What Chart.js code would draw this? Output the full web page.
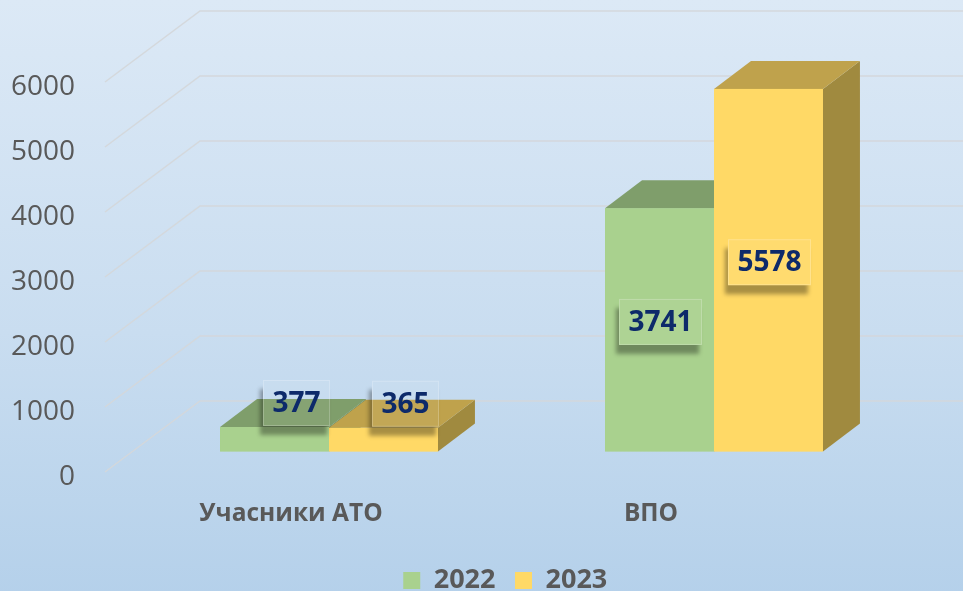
<!DOCTYPE html>
<html lang="uk">
<head>
<meta charset="UTF-8" />
<meta name="viewport" content="width=device-width, initial-scale=1.0" />
<title>Учасники АТО та ВПО</title>
<script src="https://cdn.jsdelivr.net/npm/chart.js"></script>
<style>
  html, body { margin: 0; padding: 0; overflow: hidden; }
  #wrap {
    position: relative;
    width: 963px;
    height: 604px;
    background: linear-gradient(to bottom, #dce9f6 0%, #c9ddf0 55%, #b4d0ea 100%);
  }
</style>
</head>
<body>
<div id="wrap"><canvas id="myChart"></canvas></div>
<script>
  const categories = ['Учасники АТО', 'ВПО'];
  const years = ['2022', '2023'];
  const values2022 = [377, 3741];
  const values2023 = [365, 5578];
  const yTicks = [0, 1000, 2000, 3000, 4000, 5000, 6000];

  // colours of the three visible faces of each box
  const frontColors = ['#a9d18e', '#ffd966'];
  const topColors = ['#7f9e6b', '#bfa24c'];
  const sideColors = ['#6f8b5c', '#a08a3f'];
  const DEPTH_X = 37, DEPTH_Y = 28;
  const grey = '#595959';

  function fillPoly(ctx, pts, color) {
    ctx.beginPath();
    ctx.moveTo(pts[0][0], pts[0][1]);
    for (let i = 1; i < pts.length; i++) ctx.lineTo(pts[i][0], pts[i][1]);
    ctx.closePath();
    ctx.fillStyle = color;
    ctx.fill();
  }

  // slanted floor/back-wall grid lines
  const grid3d = {
    id: 'grid3d',
    beforeDatasetsDraw(chart) {
      const {ctx, chartArea, scales: {y}} = chart;
      const fx = chartArea.left - 31.5, bx = fx + 95;
      ctx.save();
      ctx.strokeStyle = 'rgba(212, 215, 218, 0.95)';
      ctx.lineWidth = 1.5;
      y.ticks.forEach(t => {
        const p = y.getPixelForValue(t.value);
        ctx.beginPath();
        ctx.moveTo(fx, p + 20.5);
        ctx.lineTo(bx, p - 50.5);
        ctx.lineTo(chart.width, p - 50.5);
        ctx.stroke();
      });
      ctx.restore();
    }
  };

  // extrude bars into boxes, then put the value boxes on top
  const bars3d = {
    id: 'bars3d',
    afterDatasetsDraw(chart) {
      const ctx = chart.ctx;
      const items = [];
      chart.getSortedVisibleDatasetMetas().forEach(meta => {
        meta.data.forEach((bar, i) => {
          items.push({bar, ds: meta.index, value: chart.data.datasets[meta.index].data[i]});
        });
      });
      items.sort((a, b) => a.bar.x - b.bar.x);

      ctx.save();
      items.forEach(({bar, ds}) => {
        const {x, y, base, width} = bar.getProps(['x', 'y', 'base', 'width'], true);
        const l = x - width / 2, r = x + width / 2;
        fillPoly(ctx, [[r, y], [r + DEPTH_X, y - DEPTH_Y], [r + DEPTH_X, base - DEPTH_Y], [r, base]], sideColors[ds]);
        fillPoly(ctx, [[l, y], [r, y], [r + DEPTH_X, y - DEPTH_Y], [l + DEPTH_X, y - DEPTH_Y]], topColors[ds]);
        ctx.fillStyle = frontColors[ds];
        ctx.fillRect(l, y, width, base - y);
      });

      ctx.font = 'bold 28px "Open Sans"';
      items.forEach(({bar, value}) => {
        const {x, y, base} = bar.getProps(['x', 'y', 'base'], true);
        const text = String(value);
        const w = ctx.measureText(text).width + 19, h = 46;
        let cx, cy;
        if (base - y > h + 20) {
          cx = x + 1; cy = (y + base) / 2 - 8;
        } else {
          cx = x + 22; cy = y - h / 2 - 1;
        }
        const x0 = cx - w / 2, y0 = cy - h / 2;

        ctx.save();
        ctx.beginPath();
        ctx.rect(0, 0, chart.width, chart.height);
        ctx.rect(x0, y0, w, h);
        ctx.clip('evenodd');
        ctx.filter = 'blur(2px)';
        ctx.fillStyle = 'rgba(0, 0, 0, 0.34)';
        ctx.fillRect(x0 - 3, y0 + 9, w, h);
        ctx.restore();

        ctx.fillStyle = 'rgba(255, 255, 255, 0.06)';
        ctx.fillRect(x0, y0, w, h);
        ctx.strokeStyle = 'rgba(255, 255, 255, 0.22)';
        ctx.lineWidth = 1;
        ctx.strokeRect(x0 + 0.5, y0 + 0.5, w - 1, h - 1);

        ctx.fillStyle = '#0d2a6a';
        ctx.textAlign = 'center';
        ctx.textBaseline = 'middle';
        ctx.fillText(text, cx, cy + 1);
      });
      ctx.restore();
    }
  };

  const ctx = document.getElementById('myChart');
  new Chart(ctx, {
    type: 'bar',
    data: {
      labels: categories,
      datasets: [
        { label: years[0], data: values2022, backgroundColor: frontColors[0], borderWidth: 0 },
        { label: years[1], data: values2023, backgroundColor: frontColors[1], borderWidth: 0 }
      ]
    },
    options: {
      responsive: true,
      maintainAspectRatio: false,
      animation: false,
      datasets: { bar: { barPercentage: 1, categoryPercentage: 0.566 } },
      // right padding is negative so the bottom legend ends up centred under the plot
      layout: { padding: { left: 6.5, right: -41, top: 61.5, bottom: 0 } },
      scales: {
        x: { display: false },
        // category names sit on the front edge of the floor
        xl: {
          axis: 'x',
          type: 'linear',
          position: 'bottom',
          offset: false,
          min: -0.4292,
          max: 1.7097,
          afterBuildTicks: s => { s.ticks = categories.map((c, i) => ({ value: i })); },
          afterFit: s => { s.height = 96; s.paddingLeft = 0; s.paddingRight = 0; },
          grid: { display: false, drawTicks: false },
          border: { display: false },
          ticks: {
            padding: 48,
            color: grey,
            font: { family: 'Open Sans', size: 24.5, weight: 'bold' },
            callback: v => categories[v]
          }
        },
        y: {
          min: yTicks[0],
          max: yTicks[yTicks.length - 1],
          afterFit: s => { s.width = 130; s.paddingTop = 0; s.paddingBottom = 0; },
          afterBuildTicks: s => { s.ticks = yTicks.map(v => ({ value: v })); },
          grid: { display: false, drawTicks: false },
          border: { display: false },
          ticks: {
            padding: 61.5,
            labelOffset: 26,
            color: grey,
            font: { family: 'Open Sans', size: 28 },
            callback: v => String(v)
          }
        },
        // empty strip on the right, room for the box sides
        yr: {
          axis: 'y',
          type: 'linear',
          position: 'right',
          afterFit: s => { s.width = 97.5; s.paddingTop = 0; s.paddingBottom = 0; },
          grid: { display: false },
          border: { display: false },
          ticks: { display: false }
        }
      },
      plugins: {
        legend: {
          position: 'bottom',
          labels: {
            boxWidth: 17,
            boxHeight: 17,
            padding: 19.5,
            color: grey,
            font: { family: 'Open Sans', size: 27, weight: 'bold' }
          }
        },
        tooltip: { enabled: false }
      }
    },
    plugins: [grid3d, bars3d]
  });
</script>
</body>
</html>
